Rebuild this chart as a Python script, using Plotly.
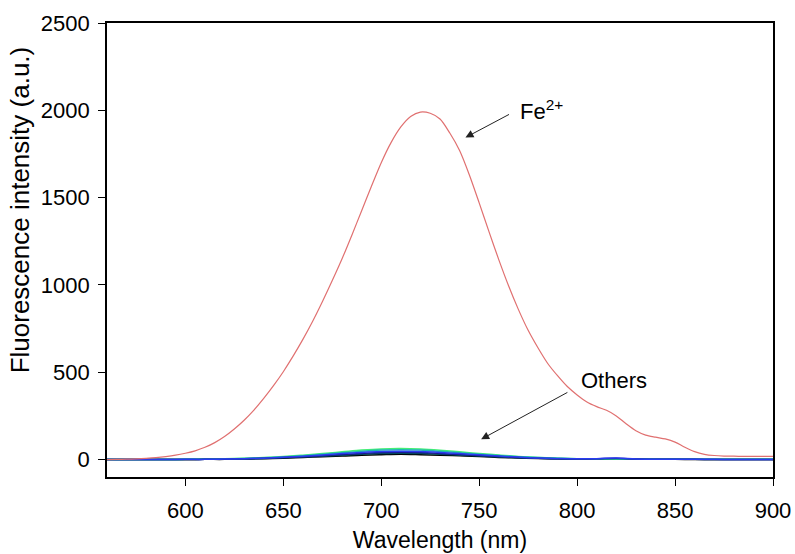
import plotly.graph_objects as go

# ---- data ----
wl_fe = list(range(560, 905, 5))
fe2 = [0, 1, 2, 4, 7, 11, 17, 25, 36, 50, 70, 97, 132, 175, 225, 283, 350, 423,
       503, 592, 688, 792, 905, 1025, 1150, 1285, 1425, 1565, 1700, 1815, 1905,
       1965, 1990, 1983, 1950, 1870, 1770, 1630, 1470, 1305, 1145, 995, 860, 740,
       640, 550, 480, 418, 370, 330, 303, 282, 250, 205, 165, 140, 128, 118, 100,
       70, 45, 30, 23, 20, 19, 18, 18, 18, 18]

wl_o = list(range(560, 910, 10))
o_green = [0, 0, 0, 0, 1, 2, 4, 7, 11, 17, 25, 34, 44, 54, 61, 63, 60, 53, 44, 35,
           26, 18, 12, 8, 5, 4, 5, 3, 2, 2, 1, 1, 1, 1, 1]
o_cyan = [0, 0, 0, 0, 1, 2, 3, 6, 10, 15, 22, 30, 39, 48, 54, 56, 54, 47, 39, 31,
          23, 16, 11, 7, 5, 4, 4, 3, 2, 1, 1, 1, 1, 1, 1]
o_blue = [0, 0, 0, 0, 1, 1, 3, 5, 8, 13, 19, 26, 34, 41, 46, 48, 46, 41, 34, 27,
          20, 14, 9, 6, 4, 5, 9, 3, 2, 1, 1, 1, 0, 0, 0]
o_navy = [0, 0, 0, 0, 0, 1, 2, 4, 7, 11, 16, 22, 29, 35, 40, 42, 40, 35, 29, 23,
          17, 12, 8, 5, 3, 4, 7, 3, 2, 1, 1, 0, 0, 0, 0]
o_teal = [0, 0, 0, 0, 0, 1, 2, 4, 6, 10, 14, 19, 25, 30, 34, 36, 34, 30, 25, 20,
          15, 10, 7, 4, 3, 3, 4, 2, 1, 1, 1, 0, 0, 0, 0]
o_black = [0, 0, 0, 0, 0, 1, 1, 3, 5, 8, 12, 16, 20, 25, 28, 30, 28, 25, 21, 17,
           12, 9, 6, 4, 2, 2, 3, 2, 1, 1, 0, 0, 0, 0, 0]

# drawing order (bottom to top)
others = [o_black, o_teal, o_green, o_cyan, o_navy, o_blue]
other_colors = ["#000000", "#004f5a", "#44ee77", "#20b8b0", "#1a1a90", "#2a3cf0"]

x_ticks = [600, 650, 700, 750, 800, 850, 900]
y_ticks = [0, 500, 1000, 1500, 2000, 2500]

FONT = "Liberation Sans, Arial, sans-serif"

fig = go.Figure()
for vals, col in zip(others, other_colors):
    fig.add_trace(go.Scatter(x=wl_o, y=vals, mode="lines",
                             line=dict(color=col, width=1.5, shape="spline"),
                             showlegend=False, hoverinfo="skip"))
fig.add_trace(go.Scatter(x=wl_fe, y=fe2, mode="lines",
                         line=dict(color="#e07070", width=1.2, shape="spline", smoothing=0.8),
                         showlegend=False))

axis_common = dict(showline=True, linecolor="black", linewidth=1.6, mirror=True,
                   ticks="outside", ticklen=7, tickwidth=1.4, tickcolor="black",
                   showgrid=False, zeroline=False, automargin=False,
                   tickfont=dict(family=FONT, size=22, color="black"))

fig.update_layout(
    width=795, height=554,
    margin=dict(l=107, r=22, t=23, b=77),
    plot_bgcolor="white", paper_bgcolor="white",
    font=dict(family=FONT, color="black"),
    xaxis=dict(range=[560, 900], tickvals=x_ticks, ticklabelstandoff=6,
               title=dict(text="Wavelength (nm)", font=dict(family=FONT, size=23), standoff=10),
               **axis_common),
    yaxis=dict(range=[-100, 2500], tickvals=y_ticks, ticklabelstandoff=4, **axis_common),
    annotations=[
        dict(text="Fluorescence intensity (a.u.)", xref="paper", yref="paper",
             x=-0.131, y=0.589, textangle=-90, showarrow=False,
             font=dict(family=FONT, size=26, color="black"),
             xanchor="center", yanchor="middle"),
        dict(x=743, y=1844, ax=766, ay=1981, xref="x", yref="y", axref="x", ayref="y",
             showarrow=True, arrowhead=2, arrowsize=1.6, arrowwidth=1, arrowcolor="#222",
             text=""),
        dict(x=769.6, y=2004, xref="x", yref="y", text="Fe<sup>2+</sup>",
             showarrow=False, xanchor="left", yanchor="middle",
             font=dict(family=FONT, size=22, color="black")),
        dict(x=751, y=116, ax=795.8, ay=389, xref="x", yref="y", axref="x", ayref="y",
             showarrow=True, arrowhead=2, arrowsize=1.6, arrowwidth=1, arrowcolor="#222",
             text=""),
        dict(x=800.8, y=455, xref="x", yref="y", text="Others",
             showarrow=False, xanchor="left", yanchor="middle",
             font=dict(family=FONT, size=22, color="black")),
    ],
)

fig.write_html("out.html")
